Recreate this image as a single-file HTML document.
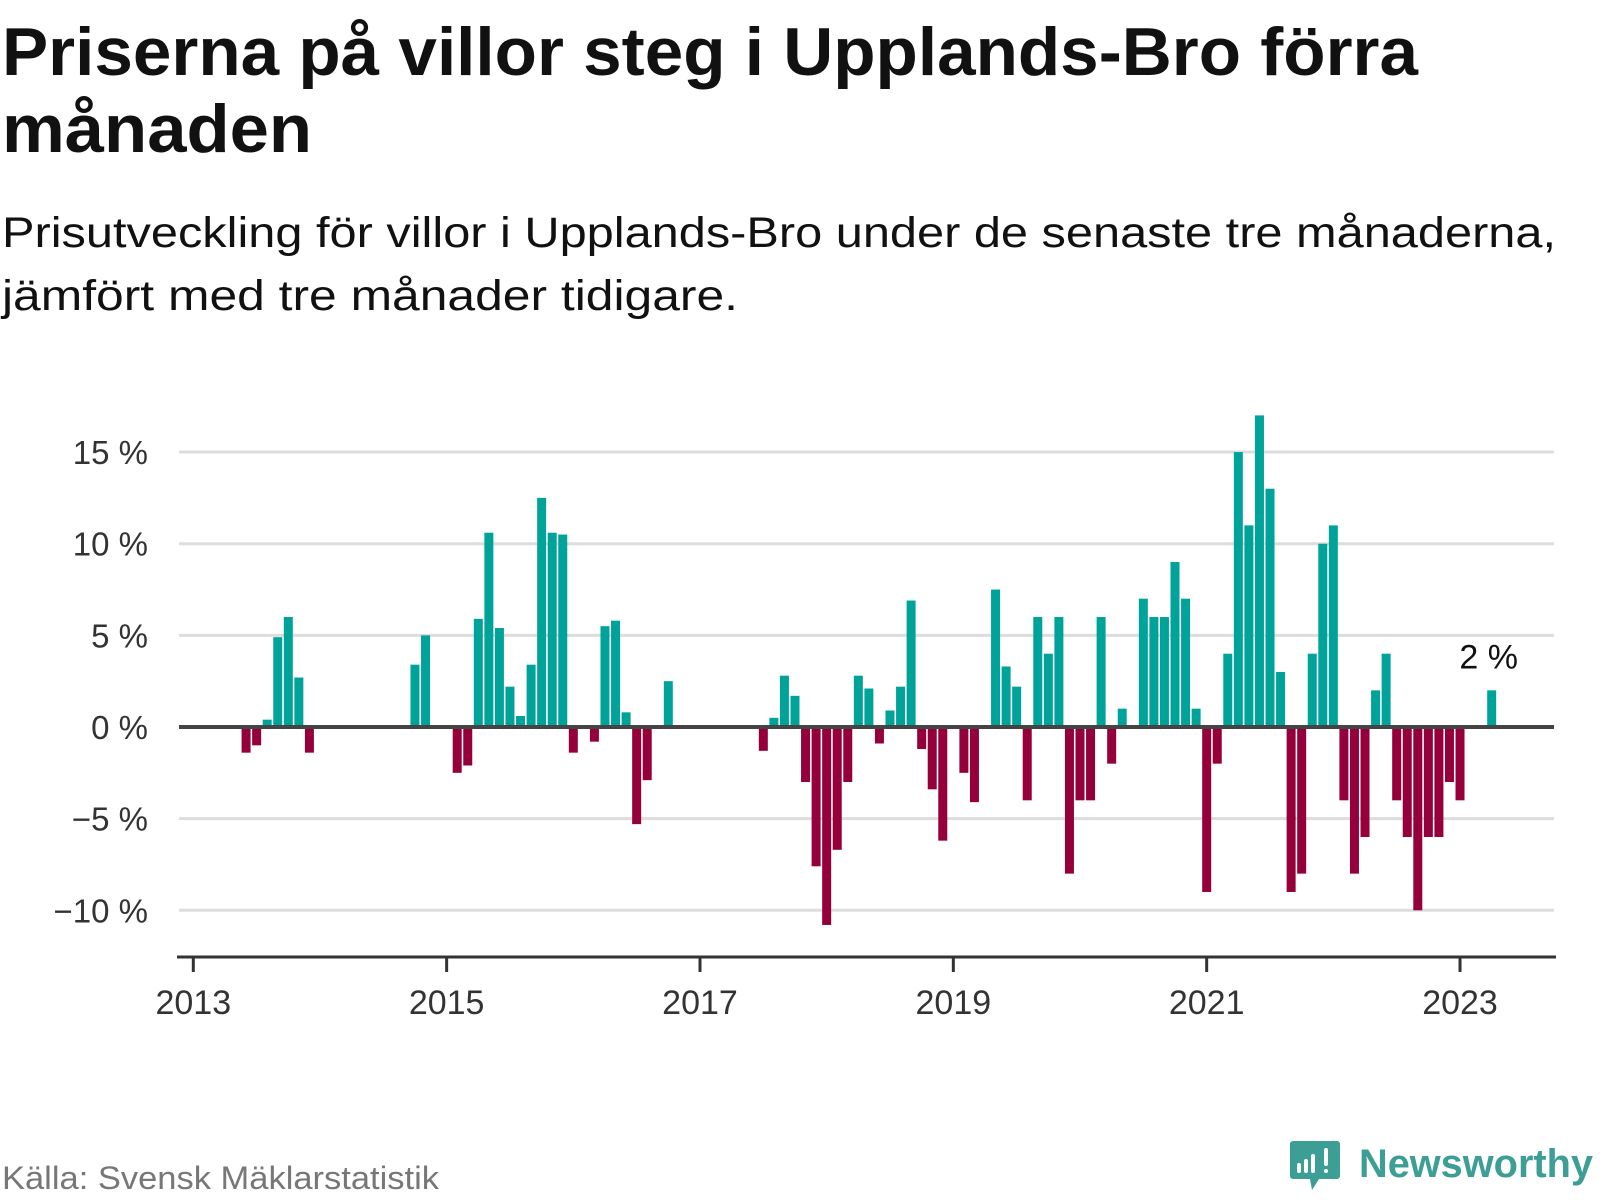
<!DOCTYPE html>
<html><head><meta charset="utf-8"><style>
html,body{margin:0;padding:0;background:#fff;}
svg{display:block;font-family:"Liberation Sans",sans-serif;}
</style></head><body>
<svg id="chart" width="1600" height="1200" viewBox="0 0 1600 1200" xmlns="http://www.w3.org/2000/svg">
<text x="2" y="75" font-size="68" font-weight="bold" fill="#111" textLength="1416" lengthAdjust="spacingAndGlyphs">Priserna på villor steg i Upplands-Bro förra</text>
<text x="2" y="152" font-size="68" font-weight="bold" fill="#111" textLength="310" lengthAdjust="spacingAndGlyphs">månaden</text>
<text x="2" y="247" font-size="43" fill="#111" textLength="1554" lengthAdjust="spacingAndGlyphs">Prisutveckling för villor i Upplands-Bro under de senaste tre månaderna,</text>
<text x="2" y="310" font-size="43" fill="#111" textLength="736" lengthAdjust="spacingAndGlyphs">jämfört med tre månader tidigare.</text>
<g id="grid"></g>
<g id="bars"></g>
<g id="axes"></g>
<text x="2" y="1189" font-size="32" fill="#777" textLength="437" lengthAdjust="spacingAndGlyphs">Källa: Svensk Mäklarstatistik</text>
<g>
<path d="M1293 1141 h44 a3 3 0 0 1 3 3 v32 a3 3 0 0 1 -3 3 h-18 l-7 11 l-2 -11 h-17 a3 3 0 0 1 -3 -3 v-32 a3 3 0 0 1 3 -3z" fill="#3d9e96"/>
<rect x="1297" y="1163" width="4" height="10" rx="2" fill="#fff"/>
<rect x="1304" y="1159" width="4" height="14" rx="2" fill="#fff"/>
<rect x="1311" y="1154" width="4" height="19" rx="2" fill="#fff"/>
<rect x="1324" y="1148" width="4" height="18" rx="2" fill="#fff"/>
<rect x="1324" y="1169" width="4" height="4" rx="2" fill="#fff"/>
<text x="1359" y="1177" font-size="40" font-weight="bold" fill="#3d9e96" textLength="234" lengthAdjust="spacingAndGlyphs">Newsworthy</text>
</g>
</svg>
<script>
// month index: 0 = Jan 2013
const months = [5,6,7,8,9,10,11,21,22,25,26,27,28,29,30,31,32,33,34,35,36,38,39,40,41,42,43,45,
54,55,56,57,58,59,60,61,62,63,64,65,66,67,68,69,70,71,73,74,76,77,78,79,80,81,82,83,84,85,86,87,88,
90,91,92,93,94,95,96,97,98,99,100,101,102,103,104,105,106,107,108,109,110,111,112,113,114,115,116,117,118,119,120,123];
const values = [-1.4,-1.0,0.4,4.9,6.0,2.7,-1.4,3.4,5.0,-2.5,-2.1,5.9,10.6,5.4,2.2,0.6,3.4,12.5,10.6,10.5,-1.4,-0.8,5.5,5.8,0.8,-5.3,-2.9,2.5,
-1.3,0.5,2.8,1.7,-3.0,-7.6,-10.8,-6.7,-3.0,2.8,2.1,-0.9,0.9,2.2,6.9,-1.2,-3.4,-6.2,-2.5,-4.1,7.5,3.3,2.2,-4.0,6.0,4.0,6.0,-8.0,-4.0,-4.0,6.0,-2.0,1.0,
7.0,6.0,6.0,9.0,7.0,1.0,-9.0,-2.0,4.0,15.0,11.0,17.0,13.0,3.0,-9.0,-8.0,4.0,10.0,11.0,-4.0,-8.0,-6.0,2.0,4.0,-4.0,-6.0,-10.0,-6.0,-6.0,-3.0,-4.0,2.0];
const yTicks = [15,10,5,0,-5,-10];
const yTickLabels = ["15 %","10 %","5 %","0 %","\u22125 %","\u221210 %"];
const xTicks = [0,24,48,72,96,120];
const xTickLabels = ["2013","2015","2017","2019","2021","2023"];
const lastLabel = "2 %";

const NS="http://www.w3.org/2000/svg";
const x0=193.3, mw=10.556, y0=727, pp=18.33;
const xs = m => x0 + m*mw;
const ys = v => y0 - v*pp;
function mk(tag, attrs, parent){const e=document.createElementNS(NS,tag);for(const k in attrs)e.setAttribute(k,attrs[k]);parent.appendChild(e);return e;}
const grid=document.getElementById('grid'), bars=document.getElementById('bars'), axes=document.getElementById('axes');
yTicks.forEach((t,i)=>{
  if(t!==0){
    const l=mk('line',{x1:179,x2:1554,y1:ys(t),y2:ys(t),stroke:'#dddddd','stroke-width':3},grid);
    
    
  }
  const tx=mk('text',{x:148,y:ys(t)+12,'font-size':33,fill:'#333','text-anchor':'end'},axes);
  tx.textContent=yTickLabels[i];
  
  
});
months.forEach((m,i)=>{
  const v=values[i];
  const top=Math.min(ys(v),y0), h=Math.abs(ys(v)-y0);
  const r=mk('rect',{x:xs(m)-4.5,y:top,width:9,height:h,fill:v>=0?'#00a39a':'#95003b'},bars);
  
  
});
const zl=mk('line',{x1:179,x2:1554,y1:y0,y2:y0,stroke:'#444','stroke-width':4},axes);


const ax=mk('line',{x1:177,x2:1556,y1:957,y2:957,stroke:'#333','stroke-width':3},axes);


xTicks.forEach((m,i)=>{
  const tk=mk('line',{x1:xs(m),x2:xs(m),y1:957,y2:972,stroke:'#333','stroke-width':3},axes);
  
  
  const tx=mk('text',{x:xs(m),y:1014,'font-size':34,fill:'#333','text-anchor':'middle'},axes);
  tx.textContent=xTickLabels[i];
  
  
});
const li=months.length-1;
const lt=mk('text',{x:xs(months[li])-3,y:ys(values[li])-22,'font-size':34,fill:'#111','text-anchor':'middle'},axes);
lt.textContent=lastLabel;


</script>
</body></html>
